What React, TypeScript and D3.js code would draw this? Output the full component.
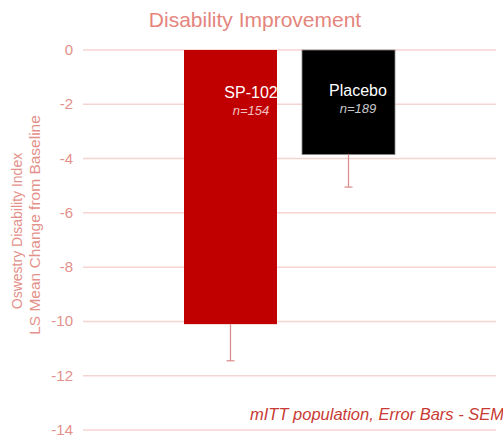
import React from "react";
import * as d3 from "d3";

const categories = ["SP-102", "Placebo"];
const nLabels = ["n=154", "n=189"];
const values = [-10.1, -3.85];
const sem = [1.35, 1.2];
const yTicks = [0, -2, -4, -6, -8, -10, -12, -14];
const barColors = ["#c00000", "#000000"];

const W = 503;
const H = 441;

export default function App() {
  const y = d3.scaleLinear().domain([0, -14]).range([50, 430]);
  const x = d3.scaleBand().domain(categories).range([184, 395]).paddingInner(0.212).paddingOuter(0);
  const labelX = [251, 358];
  const labelY = [98, 96];
  return (
    <svg width={W} height={H} style={{ position: "absolute", left: 0, top: 0 }} fontFamily="Liberation Sans, Arial, sans-serif">
      <defs>
        <clipPath id="clip0">
          <rect x={x(categories[0])} y={0} width={x.bandwidth()} height={H} />
        </clipPath>
      </defs>
      <rect width={W} height={H} fill="#fff" />
      <text x={255} y={27} textAnchor="middle" fontSize={21} fill="#e4857c">Disability Improvement</text>
      {yTicks.map((t) => (
        <g key={t}>
          <line x1={83} x2={496} y1={y(t)} y2={y(t)} stroke="#f6d4d2" strokeWidth={1.5} />
          <text x={73} y={y(t) + 5} textAnchor="end" fontSize={15} fill="#e4908a">{t}</text>
        </g>
      ))}
      <text transform="translate(22,231) rotate(-90)" textAnchor="middle" fontSize={14} fill="#e4908a">Oswestry Disability Index</text>
      <text transform="translate(40,225) rotate(-90)" textAnchor="middle" fontSize={15.5} fill="#e4908a">LS Mean Change from Baseline</text>
      {categories.map((c, i) => {
        const bx = x(c)!;
        const bw = x.bandwidth();
        const cx = bx + bw / 2;
        return (
          <g key={c}>
            <rect x={bx} y={y(0)} width={bw} height={y(values[i]) - y(0)} fill={barColors[i]} stroke={i === 1 ? "#888" : "none"} strokeWidth={0.8} />
            <line x1={cx} x2={cx} y1={y(values[i])} y2={y(values[i] - sem[i])} stroke="#d88a88" strokeWidth={1.2} />
            <line x1={cx - 4} x2={cx + 4} y1={y(values[i] - sem[i])} y2={y(values[i] - sem[i])} stroke="#d88a88" strokeWidth={1.2} />
            <g clipPath={i === 0 ? "url(#clip0)" : undefined}>
              <text x={labelX[i]} y={labelY[i]} textAnchor="middle" fontSize={16} fill="#fff">{c}</text>
              <text x={labelX[i]} y={labelY[i] + 17} textAnchor="middle" fontSize={13} fontStyle="italic" fill={i === 0 ? "#f0c0c0" : "#c8c8c8"}>{nLabels[i]}</text>
            </g>
          </g>
        );
      })}
      <text x={504} y={420} textAnchor="end" fontSize={16.5} fontStyle="italic" fill="#c83a34">mITT population, Error Bars - SEM</text>
    </svg>
  );
}
